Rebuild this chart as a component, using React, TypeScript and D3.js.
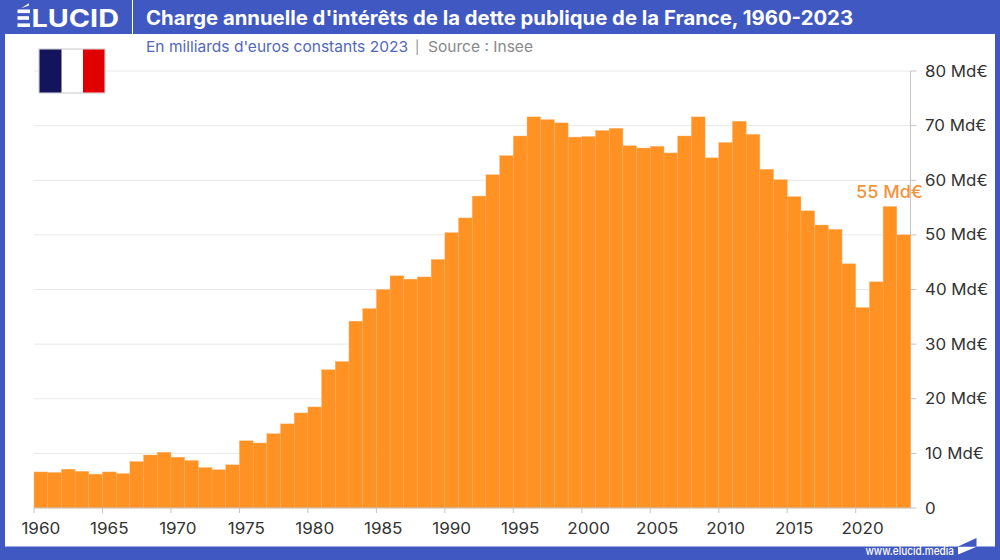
import React from "react";
import * as d3 from "d3";

const years = d3.range(1960, 2024);
const values = [
  6.6, 6.5, 7.1, 6.7, 6.2, 6.6, 6.3, 8.5, 9.7, 10.2,
  9.3, 8.7, 7.4, 7.0, 7.9, 12.3, 11.9, 13.6, 15.4, 17.4,
  18.5, 25.3, 26.8, 34.2, 36.5, 40.0, 42.5, 41.9, 42.3, 45.5,
  50.4, 53.1, 57.1, 61.0, 64.5, 68.1, 71.6, 71.1, 70.5, 67.9,
  68.0, 69.1, 69.5, 66.3, 65.9, 66.2, 65.0, 68.1, 71.6, 64.1,
  66.9, 70.8, 68.4, 62.0, 60.1, 57.0, 54.4, 51.8, 51.0, 44.7,
  36.7, 41.4, 55.2, 50.0,
];
const yTicks = [0, 10, 20, 30, 40, 50, 60, 70, 80];
const xTicks = d3.range(1960, 2021, 5);
const title = "Charge annuelle d'intérêts de la dette publique de la France, 1960-2023";
const subtitle = "En milliards d'euros constants 2023";
const source = "Source : Insee";
const callout = "55 Md€";
const FONT = "Inter, 'Open Sans', sans-serif";
const BLUE = "#3f58c2";

export default function App() {
  const x = d3.scaleLinear().domain([1960, 2024]).range([34, 910.5]);
  const y = d3.scaleLinear().domain([0, 80]).range([508, 71]);
  const yFmt = (v: number) => (v === 0 ? "0" : `${v} Md€`);
  return (
    <svg width={1000} height={560} viewBox="0 0 1000 560"
      style={{ position: "absolute", left: 0, top: 0, fontFamily: FONT }}>
      <rect width={1000} height={560} fill={BLUE} />
      <rect x={5} y={34} width={990} height={512.5} fill="#fff" />
      <line x1={132.5} x2={132.5} y1={0} y2={34} stroke="#fff" strokeWidth={1} />

      <g fill="#fff">
        <rect x={17.5} y={9.5} width={12.5} height={3.6} />
        <rect x={17.5} y={16.2} width={11.5} height={3.6} />
        <rect x={17.5} y={23.4} width={12.5} height={3.6} />
        <path d="M21,8.2 L29,3.2 L29,5.4 L21,8.2 Z" />
        <text x={31.5} y={27} fontSize={24.7} fontWeight={700} textLength={87.5} lengthAdjust="spacingAndGlyphs">LUCID</text>
      </g>

      <text x={146} y={25} fill="#fff" fontSize={19.5} fontWeight={700} textLength={707} lengthAdjust="spacingAndGlyphs">{title}</text>
      <text x={146} y={52} fill="#5468b8" fontSize={15} textLength={262} lengthAdjust="spacingAndGlyphs">{subtitle}</text>
      <text x={415} y={52} fill="#8a8a8a" fontSize={13}>|</text>
      <text x={428} y={52} fill="#8a8a8a" fontSize={15} textLength={105} lengthAdjust="spacingAndGlyphs">{source}</text>

      {yTicks.map((t) => (
        <g key={t}>
          {t > 0 && <line x1={34} x2={910.5} y1={y(t)} y2={y(t)} stroke="#e8e8e8" strokeWidth={1} />}
          <line x1={910.5} x2={916.5} y1={y(t)} y2={y(t)} stroke="#c4c4c4" strokeWidth={1} />
          <text transform={`translate(925,${y(t) + 5.5}) scale(1.09,1)`} fill="#333" fontSize={15.5}>{yFmt(t)}</text>
        </g>
      ))}
      <line x1={910.5} x2={910.5} y1={y(80)} y2={y(0)} stroke="#c4c4c4" strokeWidth={1} />

      {values.map((v, i) => (
        <rect key={years[i]} x={x(years[i])} y={y(v)} width={x(years[i] + 1) - x(years[i])} height={y(0) - y(v)}
          fill="#ff9222" stroke="#ffb066" strokeWidth={0.4} />
      ))}

      <line x1={34} x2={910.5} y1={508} y2={508} stroke="#c4c4c4" strokeWidth={1} />
      {xTicks.map((t) => (
        <g key={t}>
          <line x1={x(t)} x2={x(t)} y1={508} y2={513} stroke="#c4c4c4" strokeWidth={1} />
          <text transform={`translate(${x(t + 0.5)},534) scale(1.1,1)`} textAnchor="middle" fill="#333" fontSize={15.5}>{t}</text>
        </g>
      ))}

      <text x={856} y={198} fill="#f4923a" fontSize={17.5} fontWeight={500} textLength={67} lengthAdjust="spacingAndGlyphs">{callout}</text>

      <g>
        <rect x={39} y={49} width={66} height={44} fill="#fff" stroke="#c8c8c8" strokeWidth={1} />
        <rect x={39.5} y={49.5} width={22} height={43} fill="#14145c" />
        <rect x={83} y={49.5} width={21.5} height={43} fill="#e00000" />
      </g>

      <text x={865.5} y={555} fill="#fff" fontSize={11.5} fontWeight={500} textLength={88.5} lengthAdjust="spacingAndGlyphs">www.elucid.media</text>
      <path d="M958,546.5 L976.5,538 L976.5,546.5 Z" fill={BLUE} />
      <path d="M958,547 L976,547 L958,554.5 Z" fill="#fff" />
    </svg>
  );
}
